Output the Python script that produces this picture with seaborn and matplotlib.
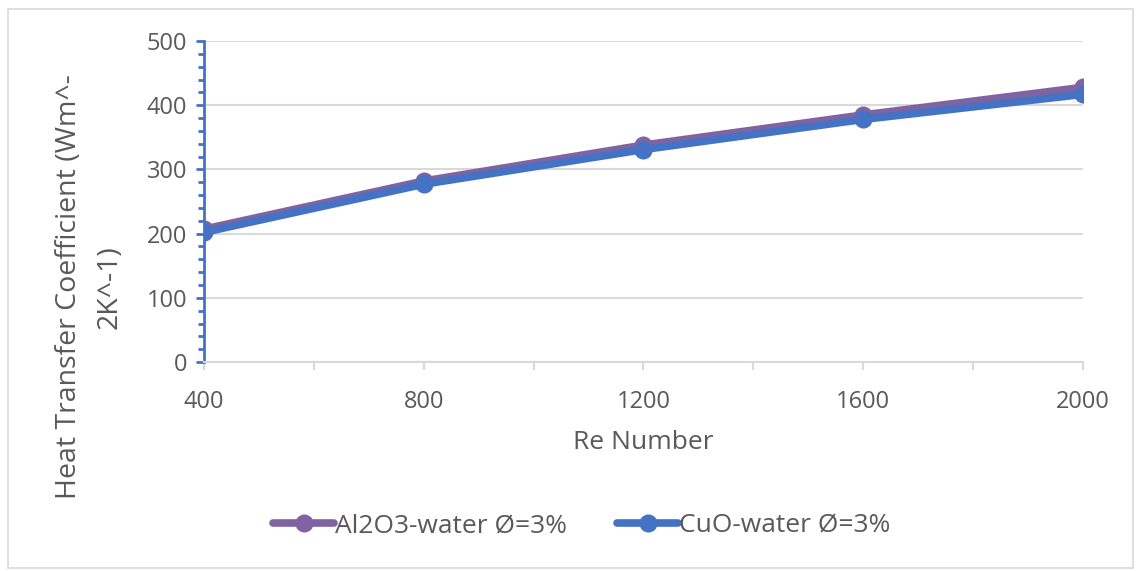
import matplotlib
matplotlib.use("Agg")
import matplotlib.pyplot as plt
import seaborn as sns
import pandas as pd
from matplotlib.ticker import MultipleLocator
from matplotlib.patches import Rectangle

re_numbers = [400, 800, 1200, 1600, 2000]
al2o3_water = [207, 282, 338, 385, 428]
cuo_water = [202, 277, 331, 378, 417]
series_names = ["Al2O3-water Ø=3%", "CuO-water Ø=3%"]
colors = ["#8064A2", "#4472C4"]

df = pd.DataFrame({
    "Re": re_numbers * 2,
    "h": al2o3_water + cuo_water,
    "series": [series_names[0]] * len(re_numbers) + [series_names[1]] * len(re_numbers),
})

sns.set_theme(style="white")
plt.rcParams["font.family"] = ["Open Sans", "DejaVu Sans"]

fig = plt.figure(figsize=(11.42, 5.71), dpi=100)
ax = fig.add_axes([0.1786, 0.366, 0.9483 - 0.1786, 0.928 - 0.366])

sns.lineplot(data=df, x="Re", y="h", hue="series", palette=colors,
             marker="o", markersize=13, linewidth=5.5, markeredgewidth=0,
             ax=ax, legend=True)

ax.set_xlim(400, 2000)
ax.set_ylim(0, 500)
ax.set_xticks([400, 800, 1200, 1600, 2000])
ax.xaxis.set_minor_locator(MultipleLocator(200))
ax.yaxis.set_major_locator(MultipleLocator(100))
ax.yaxis.set_minor_locator(MultipleLocator(20))
ax.grid(axis="y", which="major", color="#D9D9D9", linewidth=1.5)
ax.set_axisbelow(True)

for s in ["top", "right"]:
    ax.spines[s].set_visible(False)
ax.spines["left"].set_color("#4472C4")
ax.spines["left"].set_linewidth(2)
ax.spines["bottom"].set_color("#D9D9D9")
ax.spines["bottom"].set_linewidth(1.5)

ax.tick_params(axis="y", which="major", direction="out", length=6, width=2,
               color="#4472C4", labelsize=17, labelcolor="#595959", left=True, pad=6)
ax.tick_params(axis="y", which="minor", direction="out", length=4, width=2,
               color="#4472C4", left=True)
ax.tick_params(axis="x", which="both", direction="out", length=6, width=1.5,
               color="#D9D9D9", labelsize=17, labelcolor="#595959", bottom=True, pad=14)

ax.set_xlabel("Re Number", fontsize=19, color="#595959", labelpad=12)
ax.set_ylabel("Heat Transfer Coefficient (Wm^-\n2K^-1)", fontsize=20.5, color="#595959",
              linespacing=1.6, ha="center", va="center")
ax.yaxis.set_label_coords(-0.13, 0.234)

handles, labels = ax.get_legend_handles_labels()
ax.legend(handles, labels, loc="center", bbox_to_anchor=(0.43, -0.51), ncol=2,
          frameon=False, fontsize=19, labelcolor="#595959", handlelength=2.3,
          handletextpad=0.05, columnspacing=1.9)

fig.add_artist(Rectangle((0.007, 0.005), 0.985, 0.98, transform=fig.transFigure,
                         fill=False, edgecolor="#D9D9D9", linewidth=1.2))

fig.savefig("out.png", dpi=100)
